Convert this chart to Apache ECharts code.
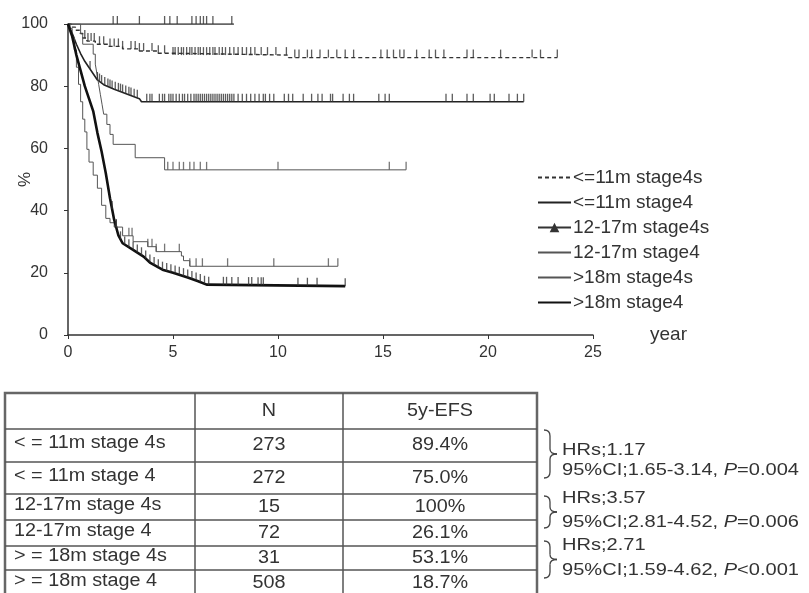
<!DOCTYPE html>
<html>
<head>
<meta charset="utf-8">
<script src="https://cdn.jsdelivr.net/npm/echarts@6/dist/echarts.min.js"></script>
<style>
html,body{margin:0;padding:0;background:#fff}
#container{width:809px;height:593px}
</style>
</head>
<body>
<div id="container"></div>
<script>
var seriesNames = ['<=11m stage4s', '<=11m stage4', '12-17m stage4s', '12-17m stage4', '>18m stage4s', '>18m stage4'];

// survival curves (year, %)
var t1 = [0, 0.15, 0.35, 0.55, 0.7, 0.9, 1.3, 1.9, 2.6, 3.4, 4.3, 5.0, 10.5, 23.3];
var s1 = [100, 99, 98, 97, 95.5, 94.5, 93.5, 92.8, 92, 91.3, 90.6, 90.0, 89.2, 89.2];
var t2 = [0, 0.2, 0.4, 0.6, 0.8, 1.0, 1.2, 1.4, 1.7, 2.2, 2.8, 3.4, 3.5, 21.7];
var s2 = [100, 97, 93.5, 90.5, 88, 86, 84, 82, 80.5, 79, 77.5, 76, 75, 75];
var t3 = [0, 7.9];
var s3 = [100, 100];
var t4 = [0, 0.1, 0.2, 0.3, 0.4, 0.5, 0.6, 0.7, 0.8, 0.9, 1.0, 1.2, 1.4, 1.6, 1.8, 2.0, 2.2, 2.6, 3.1, 3.8, 4.2, 5.4, 5.5, 5.8, 12.85];
var s4 = [100, 98.6, 95.8, 91.7, 86.1, 80.6, 75, 69.4, 65.3, 59.7, 55.6, 51.4, 47.2, 41.7, 37.5, 36.1, 34.7, 31.9, 30.0, 28.4, 26.8, 25.4, 23.9, 22.1, 22.1];
var t5 = [0, 0.6, 0.7, 1.2, 1.3, 1.38, 1.46, 1.54, 1.62, 1.7, 1.85, 2.0, 2.15, 3.2, 4.6, 16.1];
var s5 = [100, 96.8, 93.5, 90.3, 87.1, 83.9, 80.6, 77.4, 74.2, 71.0, 67.7, 64.5, 61.3, 57.0, 53.1, 53.1];
var t6 = [0, 0.2, 0.4, 0.6, 0.8, 1.0, 1.2, 1.4, 1.6, 1.8, 2.0, 2.2, 2.4, 2.6, 3.1, 3.6, 3.9, 4.5, 5.0, 5.7, 6.2, 6.6, 13.2];
var s6 = [100, 96, 90, 85, 80, 76, 72, 65, 59, 52, 44, 37, 32, 29.5, 27.4, 25.2, 23.3, 21, 20, 18.5, 17.3, 16.2, 15.7];

// censoring marks (year)
var k1 = [0.8, 0.95, 1.1, 1.25, 1.5, 1.7, 2.0, 2.2, 2.4, 2.6, 3.0, 3.2, 3.4, 3.6, 4.0, 4.3, 4.6, 5.0, 5.1, 5.25, 5.4, 5.5, 5.65, 5.8, 5.9, 6.05, 6.2, 6.3, 6.45, 6.6, 6.75, 6.9, 7.0, 7.2, 7.35, 7.5, 7.7, 7.9, 8.1, 8.3, 8.5, 8.7, 8.9, 9.2, 9.5, 9.9, 10.4, 10.8, 11.0, 11.4, 11.6, 12.0, 12.4, 12.8, 13.2, 13.6, 14.9, 15.2, 15.5, 15.8, 16.0, 16.6, 17.2, 17.5, 17.9, 19.0, 19.3, 20.6, 22.1, 22.5, 23.3];
var k2 = [1.05, 1.4, 1.5, 1.6, 1.75, 1.9, 2.0, 2.1, 2.25, 2.4, 2.5, 2.6, 2.75, 2.9, 3.0, 3.15, 3.3, 3.75, 3.9, 4.0, 4.35, 4.5, 4.6, 4.8, 4.9, 5.0, 5.15, 5.3, 5.45, 5.55, 5.7, 5.85, 6.0, 6.1, 6.2, 6.3, 6.4, 6.5, 6.6, 6.7, 6.8, 6.9, 7.0, 7.1, 7.2, 7.3, 7.4, 7.5, 7.6, 7.7, 7.8, 7.9, 8.1, 8.3, 8.5, 8.7, 8.9, 9.1, 9.3, 9.4, 9.6, 9.8, 10.3, 10.5, 10.7, 11.2, 11.6, 11.9, 12.1, 12.5, 12.6, 13.1, 13.4, 13.6, 14.8, 15.1, 15.3, 18.0, 18.3, 19.0, 19.3, 20.1, 20.3, 21.0, 21.4, 21.7];
var k3 = [2.15, 2.35, 3.4, 4.6, 4.85, 5.2, 5.9, 6.1, 6.3, 6.45, 6.6, 6.9, 7.8];
var k4 = [2.3, 2.9, 3.05, 3.8, 4.0, 4.2, 4.6, 5.3, 5.8, 6.1, 6.4, 7.6, 9.8, 12.4, 12.85];
var k5 = [4.75, 5.0, 5.3, 5.5, 5.8, 6.0, 6.3, 6.6, 10.0, 15.3, 16.1];
var k6 = [2.1, 2.3, 2.5, 2.7, 2.9, 3.1, 3.3, 3.5, 3.7, 3.9, 4.1, 4.3, 4.5, 4.7, 4.9, 5.1, 5.3, 5.5, 5.7, 5.9, 6.1, 6.3, 6.5, 6.7, 7.4, 7.55, 7.8, 8.1, 8.6, 8.75, 9.05, 9.2, 9.3, 10.95, 11.4, 11.86, 13.2];

// table
var rowLabels = ['< = 11m stage 4s', '< = 11m stage 4', '12-17m stage 4s', '12-17m stage 4', '> = 18m stage 4s', '> = 18m stage 4'];
var nValues = ['273', '272', '15', '72', '31', '508'];
var efsValues = ['89.4%', '75.0%', '100%', '26.1%', '53.1%', '18.7%'];
var hrLines = ['HRs;1.17', 'HRs;3.57', 'HRs;2.71'];
var ciLines = ['95%CI;1.65-3.14, ', '95%CI;2.81-4.52, ', '95%CI;1.59-4.62, '];
var pLines = ['=0.004', '=0.006', '<0.001'];

var FONT = '"Liberation Sans", Arial, sans-serif';
var TXT = '#333';

function valueAt(ts, ss, t, smooth) {
	for (var i = ts.length - 1; i >= 0; i--) {
		if (ts[i] <= t) {
			if (smooth && i < ts.length - 1) {
				var f = (t - ts[i]) / (ts[i + 1] - ts[i]);
				return ss[i] + f * (ss[i + 1] - ss[i]);
			}
			return ss[i];
		}
	}
	return ss[0];
}

function lineSeries(name, ts, ss, step, color, width, type, symbol) {
	return {
		name: name,
		type: 'line',
		data: ts.map(function (t, i) { return [t, ss[i]]; }),
		step: step ? 'end' : false,
		symbol: symbol || 'none',
		symbolSize: 7,
		showSymbol: false,
		lineStyle: { color: color, width: width, type: type || 'solid' },
		itemStyle: { color: color },
		z: 3
	};
}

function tickSeries(ts, ss, ks, smooth, color) {
	return {
		type: 'scatter',
		data: ks.map(function (k) { return [k, valueAt(ts, ss, k, smooth)]; }),
		symbol: 'rect',
		symbolSize: [1.3, 8],
		symbolOffset: [0, -4],
		itemStyle: { color: color },
		clip: false,
		z: 4
	};
}

var myChart = echarts.init(document.getElementById('container'));

// table graphic
var colX = [5, 195, 343, 537];
var rowY = [393, 429, 462, 494, 520, 546, 570, 597];
var g = [];
g.push({ type: 'rect', shape: { x: colX[0], y: rowY[0], width: colX[3] - colX[0], height: rowY[7] - rowY[0] },
	style: { fill: 'none', stroke: '#666', lineWidth: 2.5 } });
for (var c = 1; c < 3; c++) {
	g.push({ type: 'line', shape: { x1: colX[c], y1: rowY[0], x2: colX[c], y2: rowY[7] }, style: { stroke: '#555', lineWidth: 1.5 } });
}
for (var r = 1; r < 7; r++) {
	g.push({ type: 'line', shape: { x1: colX[0], y1: rowY[r], x2: colX[3], y2: rowY[r] }, style: { stroke: '#555', lineWidth: 1.5 } });
}
var tFont = { fontSize: 18, fontFamily: FONT, fill: TXT };
function cellText(x, y, text, align) {
	return { type: 'text', x: x, y: y, scaleX: 1.1,
		style: Object.assign({ text: text, align: align, verticalAlign: 'middle' }, tFont) };
}
g.push(cellText((colX[1] + colX[2]) / 2, (rowY[0] + rowY[1]) / 2, 'N', 'center'));
g.push(cellText((colX[2] + colX[3]) / 2, (rowY[0] + rowY[1]) / 2, '5y-EFS', 'center'));
for (var i = 0; i < rowLabels.length; i++) {
	var mid = (rowY[i + 1] + rowY[i + 2]) / 2;
	g.push(cellText(14, mid - 2, rowLabels[i], 'left'));
	g.push(cellText((colX[1] + colX[2]) / 2, mid, nValues[i], 'center'));
	g.push(cellText((colX[2] + colX[3]) / 2, mid, efsValues[i], 'center'));
}
// braces + hazard ratios
var braceY = [[430, 478], [496, 528], [541, 578]];
var hrY = [[450, 470], [498, 522], [545, 570]];
var braceStyle = { fill: 'none', stroke: '#444', lineWidth: 1.3 };
var hFont = { fontSize: 17, fontFamily: FONT, fill: TXT };
for (var b = 0; b < 3; b++) {
	var y1 = braceY[b][0], y2 = braceY[b][1], ym = (y1 + y2) / 2, x0 = 544;
	g.push({ type: 'bezierCurve', shape: { x1: x0, y1: y1, cpx1: x0 + 6, cpy1: y1, x2: x0 + 6, y2: y1 + 6 }, style: braceStyle });
	g.push({ type: 'line', shape: { x1: x0 + 6, y1: y1 + 6, x2: x0 + 6, y2: ym - 5 }, style: braceStyle });
	g.push({ type: 'bezierCurve', shape: { x1: x0 + 6, y1: ym - 5, cpx1: x0 + 6, cpy1: ym, x2: x0 + 13, y2: ym }, style: braceStyle });
	g.push({ type: 'bezierCurve', shape: { x1: x0 + 13, y1: ym, cpx1: x0 + 6, cpy1: ym, x2: x0 + 6, y2: ym + 5 }, style: braceStyle });
	g.push({ type: 'line', shape: { x1: x0 + 6, y1: ym + 5, x2: x0 + 6, y2: y2 - 6 }, style: braceStyle });
	g.push({ type: 'bezierCurve', shape: { x1: x0 + 6, y1: y2 - 6, cpx1: x0 + 6, cpy1: y2, x2: x0, y2: y2 }, style: braceStyle });
	g.push({ type: 'text', x: 562, y: hrY[b][0], scaleX: 1.18,
		style: Object.assign({ text: hrLines[b], align: 'left', verticalAlign: 'middle' }, hFont) });
	g.push({ type: 'text', x: 562, y: hrY[b][1], scaleX: 1.18,
		style: { text: '{a|' + ciLines[b] + '}{i|P}{a|' + pLines[b] + '}', align: 'left', verticalAlign: 'middle',
			rich: { a: hFont, i: Object.assign({ fontStyle: 'italic' }, hFont) } } });
}

var legendData = seriesNames.map(function (n, i) {
	return i === 2 ? { name: n } : { name: n, itemStyle: { opacity: 0 } };
});

var option = {
	animation: false,
	backgroundColor: '#fff',
	textStyle: { fontFamily: FONT },
	grid: { left: 68, right: 216, top: 24, bottom: 258, containLabel: false, outerBoundsMode: 'none' },
	legend: {
		data: legendData,
		orient: 'vertical',
		left: 537,
		top: 168,
		itemWidth: 33,
		itemHeight: 12,
		itemGap: 6,
		padding: 0,
		textStyle: { fontSize: 19, color: TXT, fontFamily: FONT, padding: [0, 0, 0, -3] },
		selectedMode: false
	},
	xAxis: {
		type: 'value', min: 0, max: 25, interval: 5,
		name: 'year', nameLocation: 'end', nameGap: 57,
		nameTextStyle: { fontSize: 19, color: TXT, fontFamily: FONT, padding: [0, 0, 10, 0] },
		axisLine: { lineStyle: { color: '#333', width: 1.5 } },
		axisTick: { length: 4, lineStyle: { color: '#333' } },
		axisLabel: { fontSize: 16, color: TXT, margin: 10 },
		splitLine: { show: false }
	},
	yAxis: {
		type: 'value', min: 0, max: 100, interval: 20,
		name: '%', nameLocation: 'middle', nameGap: 34, nameRotate: 90, nameMoveOverlap: false,
		nameTextStyle: { fontSize: 17, color: TXT, fontFamily: FONT },
		axisLine: { show: true, lineStyle: { color: '#333', width: 1.5 } },
		axisTick: { show: true, length: 4, lineStyle: { color: '#333' } },
		axisLabel: { fontSize: 16, color: TXT, margin: 20 },
		splitLine: { show: false }
	},
	graphic: g,
	series: [
		lineSeries(seriesNames[0], t1, s1, true, '#333', 1.4, [4, 3]),
		lineSeries(seriesNames[1], t2, s2, false, '#222', 1.6),
		lineSeries(seriesNames[2], t3, s3, true, '#333', 1.4, 'solid', 'triangle'),
		lineSeries(seriesNames[3], t4, s4, true, '#555', 1),
		lineSeries(seriesNames[4], t5, s5, true, '#555', 1),
		lineSeries(seriesNames[5], t6, s6, false, '#111', 2.6),
		tickSeries(t1, s1, k1, false, '#333'),
		tickSeries(t2, s2, k2, true, '#333'),
		tickSeries(t3, s3, k3, false, '#333'),
		tickSeries(t4, s4, k4, false, '#555'),
		tickSeries(t5, s5, k5, false, '#555'),
		tickSeries(t6, s6, k6, true, '#333')
	]
};
if (option && typeof option === 'object') {
	myChart.setOption(option, true);
}
</script>
</body>
</html>
